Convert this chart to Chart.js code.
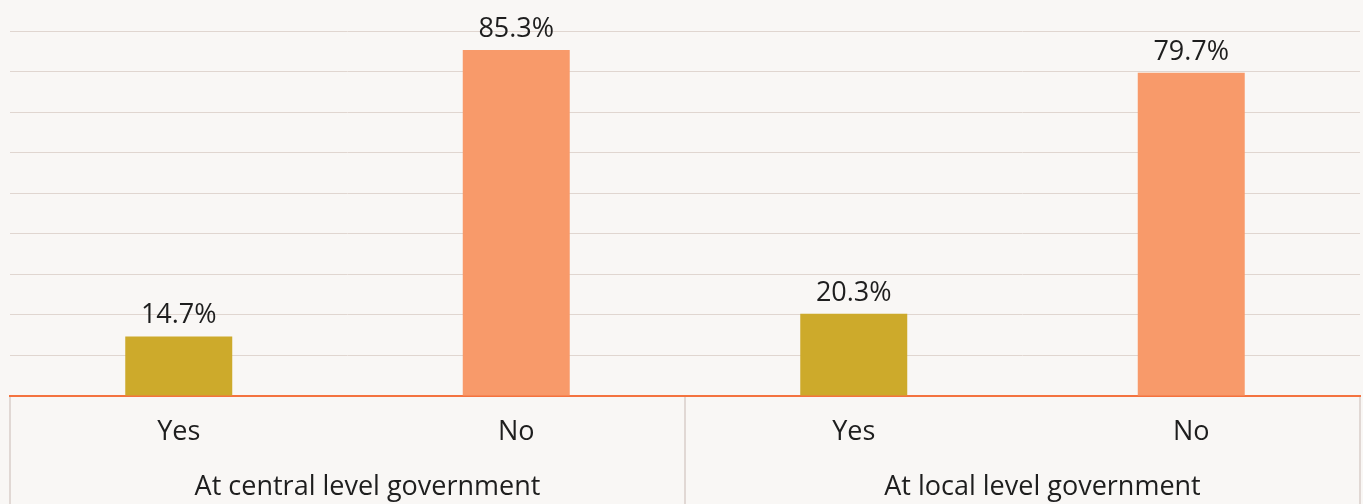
<!DOCTYPE html>
<html>
<head>
<meta charset="utf-8">
<title>Government levels</title>
<script src="https://cdn.jsdelivr.net/npm/chart.js@4/dist/chart.umd.min.js"></script>
<style>
    html, body { margin: 0; padding: 0; background: #f9f7f5; }
    .chart-box { width: 1363px; height: 504px; position: relative; }
</style>
</head>
<body>
<div class="chart-box"><canvas id="gov-chart"></canvas></div>
<script>
/* ============================================= */
/*                    Data                       */
/* ============================================= */

const answers = ['Yes', 'No', 'Yes', 'No'];
const groups = ['At central level government', 'At local level government'];
const shares = [14.7, 85.3, 20.3, 79.7];
const barColors = ['#cdaa2b', '#f89a6a', '#cdaa2b', '#f89a6a'];

const textColor = '#1e1e1e';
const fontFamily = "'Open Sans', 'Noto Sans', sans-serif";

/* ============================================= */
/*                   Plugins                     */
/* ============================================= */

// value labels above each bar
const valueLabels = {
    id: 'valueLabels',
    afterDatasetsDraw(chart) {
        const ctx = chart.ctx;
        const meta = chart.getDatasetMeta(0);
        ctx.save();
        ctx.font = `27px ${fontFamily}`;
        ctx.fillStyle = textColor;
        ctx.textAlign = 'center';
        ctx.textBaseline = 'alphabetic';
        meta.data.forEach((bar, i) => {
            ctx.fillText(shares[i].toFixed(1) + '%', bar.x, bar.y - 13);
        });
        ctx.restore();
    }
};

// vertical separators between the two groups under the axis
const groupDividers = {
    id: 'groupDividers',
    afterDraw(chart) {
        const x = chart.scales.x;
        const ctx = chart.ctx;
        const mid = (x.getPixelForValue(1) + x.getPixelForValue(2)) / 2;
        ctx.save();
        ctx.strokeStyle = '#d8cec8';
        ctx.lineWidth = 1.5;
        [x.left, mid, x.right].forEach(px => {
            ctx.beginPath();
            ctx.moveTo(px, x.top + 1);
            ctx.lineTo(px, chart.height);
            ctx.stroke();
        });
        ctx.restore();
    }
};

/* ============================================= */
/*                  Bar Chart                    */
/* ============================================= */

const govCanvas = document.getElementById('gov-chart');

const govData = {
    labels: answers,
    datasets: [{
        data: shares,
        backgroundColor: barColors,
        borderWidth: 0,
        categoryPercentage: 1,
        barPercentage: 0.317
    }]
};

const govOptions = {
    responsive: true,
    maintainAspectRatio: false,
    animation: false,
    layout: {
        padding: { left: 10, right: 3, top: 31, bottom: 0 }
    },
    scales: {
        y: {
            min: 0,
            max: 90,
            ticks: { display: false, stepSize: 10 },
            border: { display: false },
            grid: { color: '#e0d6d0', lineWidth: 1, drawTicks: false }
        },
        x: {
            grid: { display: false, drawTicks: false },
            border: { color: '#f4733f', width: 2 },
            ticks: {
                color: textColor,
                padding: 20,
                font: { family: fontFamily, size: 27 }
            },
            afterFit: scale => { scale.height = 52; }
        },
        xGroup: {
            type: 'category',
            labels: groups,
            position: 'bottom',
            offset: true,
            grid: { display: false, drawTicks: false },
            border: { display: false },
            ticks: {
                color: textColor,
                padding: 23,
                labelOffset: 20,
                maxRotation: 0,
                font: { family: fontFamily, size: 27 }
            },
            afterFit: scale => { scale.height = 56; }
        }
    },
    plugins: {
        legend: { display: false },
        tooltip: { enabled: false }
    }
};

let govChart = new Chart(govCanvas, {
    type: 'bar',
    data: govData,
    options: govOptions,
    plugins: [valueLabels, groupDividers]
});
</script>
</body>
</html>
